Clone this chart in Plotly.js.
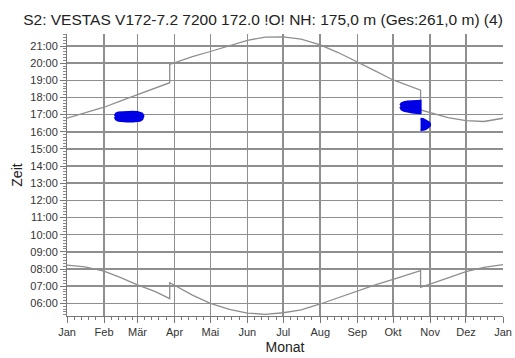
<!DOCTYPE html>
<html>
<head>
<meta charset="utf-8">
<script src="https://cdn.plot.ly/plotly-3.0.1.min.js"></script>
<style>html,body{margin:0;padding:0;background:#fff;}#chart{width:515px;height:358px;}</style>
</head>
<body>
<div id="chart"></div>
<script>
// Month tick positions (day of year) and labels
const monthDays = [0, 31, 59, 90, 120, 151, 181, 212, 243, 273, 304, 334, 365];
const monthLabels = ["Jan", "Feb", "Mär", "Apr", "Mai", "Jun", "Jul", "Aug", "Sep", "Okt", "Nov", "Dez", "Jan"];
const hourTicks = [6, 7, 8, 9, 10, 11, 12, 13, 14, 15, 16, 17, 18, 19, 20, 21];
const hourLabels = ["06:00", "07:00", "08:00", "09:00", "10:00", "11:00", "12:00", "13:00", "14:00", "15:00", "16:00", "17:00", "18:00", "19:00", "20:00", "21:00"];

// Sunset (hours, local time) by day of year
const sunsetDay = [0, 15, 31, 45, 59, 74, 86, 86, 90, 105, 120, 136, 151, 166, 181, 196, 212, 227, 243, 258, 273, 288, 296, 296, 304, 319, 334, 349, 365];
const sunsetHour = [16.79, 17.08, 17.43, 17.80, 18.15, 18.52, 18.86, 19.93, 20.03, 20.38, 20.68, 21.02, 21.33, 21.52, 21.53, 21.40, 21.06, 20.62, 20.09, 19.55, 19.02, 18.62, 18.42, 17.27, 17.11, 16.82, 16.65, 16.60, 16.79];

// Sunrise (hours, local time) by day of year
const sunriseDay = [0, 15, 31, 45, 59, 74, 86, 86, 90, 105, 120, 136, 151, 166, 181, 196, 212, 227, 243, 258, 273, 288, 296, 296, 304, 319, 334, 349, 365];
const sunriseHour = [8.23, 8.12, 7.88, 7.50, 7.07, 6.68, 6.27, 7.20, 7.05, 6.48, 6.00, 5.65, 5.43, 5.36, 5.45, 5.62, 5.96, 6.33, 6.74, 7.07, 7.40, 7.72, 7.90, 6.93, 7.11, 7.48, 7.84, 8.10, 8.25];

// Shadow flicker periods: day, start hour, end hour
const flickerA_day = [40, 41, 43, 46, 50, 55, 59, 61, 63, 64];
const flickerA_start = [16.86, 16.72, 16.64, 16.61, 16.60, 16.60, 16.61, 16.64, 16.72, 16.86];
const flickerA_end = [16.92, 17.06, 17.13, 17.16, 17.17, 17.17, 17.16, 17.13, 17.06, 16.92];

const flickerB_day = [279, 280, 282, 285, 289, 293, 296];
const flickerB_start = [17.46, 17.30, 17.22, 17.17, 17.12, 17.09, 17.08];
const flickerB_end = [17.54, 17.66, 17.72, 17.77, 17.80, 17.81, 17.81];

const flickerC_day = [296, 298, 300, 302, 303.5, 304];
const flickerC_start = [16.08, 16.10, 16.15, 16.24, 16.33, 16.42];
const flickerC_end = [16.76, 16.74, 16.68, 16.60, 16.52, 16.44];

const blue = '#0000e6';
function blob(d, s, e) {
  const x = d.concat(d.slice().reverse());
  const y = s.concat(e.slice().reverse());
  return {x: x, y: y, type: 'scatter', mode: 'lines', fill: 'toself', fillcolor: blue,
          line: {color: blue, width: 2}, hoverinfo: 'skip', showlegend: false};
}

const minorX = [];
for (let m = 0; m < 12; m++) {
  [6, 12, 18, 24].forEach(o => { if (monthDays[m] + o < monthDays[m + 1]) minorX.push(monthDays[m] + o); });
}

const curveColor = '#8e8e8e';
const gridColor = '#8f8f8f';

const data = [
  {x: sunsetDay, y: sunsetHour, type: 'scatter', mode: 'lines', line: {color: curveColor, width: 1.3}, showlegend: false},
  {x: sunriseDay, y: sunriseHour, type: 'scatter', mode: 'lines', line: {color: curveColor, width: 1.3}, showlegend: false},
  blob(flickerA_day, flickerA_start, flickerA_end),
  blob(flickerB_day, flickerB_start, flickerB_end),
  blob(flickerC_day, flickerC_start, flickerC_end)
];

const font = 'Liberation Sans, Arial, sans-serif';
const layout = {
  width: 515, height: 358,
  margin: {l: 67, r: 12, t: 34, b: 42},
  paper_bgcolor: '#fff', plot_bgcolor: '#fff',
  font: {family: font, color: '#333', size: 11},
  title: {text: 'S2: VESTAS V172-7.2 7200 172.0 !O! NH: 175,0 m (Ges:261,0 m) (4)',
          font: {family: font, size: 15.5, color: '#222'},
          xref: 'container', x: 263 / 515, xanchor: 'center', yref: 'container', y: 1 - 20 / 358, yanchor: 'middle'},
  xaxis: {
    range: [0, 365], tickmode: 'array', tickvals: monthDays, ticktext: monthLabels,
    showgrid: false, zeroline: false,
    showline: true, linecolor: '#777', linewidth: 1,
    ticks: 'outside', ticklen: 6, tickcolor: '#777', tickwidth: 1,
    tickfont: {size: 11, color: '#333'},
    minor: {tickmode: 'array', tickvals: minorX, ticks: 'outside', ticklen: 3, tickcolor: '#777', showgrid: false},
    title: {text: 'Monat', font: {size: 14, color: '#222'}, standoff: 4},
    fixedrange: true
  },
  xaxis2: {
    overlaying: 'x', anchor: 'y', side: 'bottom', range: [0, 365],
    tickmode: 'array', tickvals: monthDays.slice(1, 12),
    showgrid: true, gridcolor: gridColor, gridwidth: 1.5, zeroline: false,
    showline: false, showticklabels: false, ticks: '', fixedrange: true
  },
  yaxis: {
    range: [5.26, 21.70], tickmode: 'array', tickvals: hourTicks, ticktext: hourLabels,
    showgrid: true, gridcolor: gridColor, gridwidth: 1.5, zeroline: false,
    showline: true, linecolor: '#777', linewidth: 1,
    ticks: 'outside', ticklen: 6, tickcolor: '#777', tickwidth: 1,
    tickfont: {size: 11, color: '#333'},
    minor: {tickmode: 'linear', tick0: 0, dtick: 1 / 6, ticks: 'outside', ticklen: 3, tickcolor: '#888', showgrid: false},
    title: {text: 'Zeit', font: {size: 14, color: '#222'}, standoff: 4},
    fixedrange: true
  }
};

// an invisible trace keeps the grid axis drawn
data.unshift({x: [0, 365], y: [null, null], xaxis: 'x2', yaxis: 'y', type: 'scatter', mode: 'lines', hoverinfo: 'skip', showlegend: false});

Plotly.newPlot('chart', data, layout, {staticPlot: true, displayModeBar: false});
</script>
</body>
</html>
